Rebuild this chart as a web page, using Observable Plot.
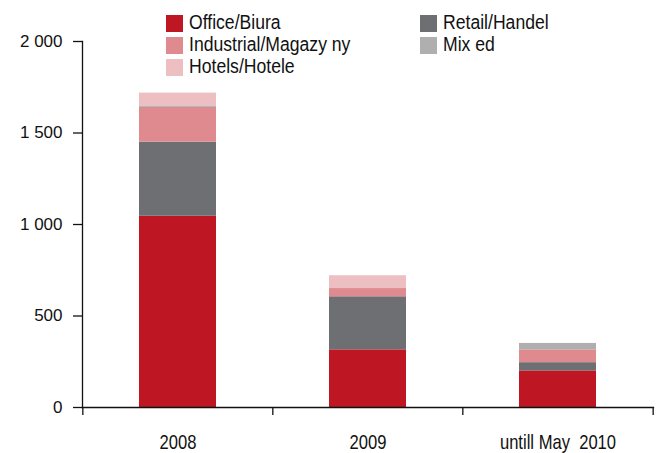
<!DOCTYPE html>
<html>
<head>
<meta charset="utf-8">
<script src="https://cdn.jsdelivr.net/npm/d3@7"></script>
<script src="https://cdn.jsdelivr.net/npm/@observablehq/plot@0.6"></script>
<style>
  html, body { margin: 0; padding: 0; background: #fff; }
  #wrap { position: relative; width: 661px; height: 453px; overflow: hidden; }
  #legend { position: absolute; left: 0; top: 0; font-family: "Liberation Sans", Arial, sans-serif; font-size: 20px; color: #111; }
  .item { position: absolute; height: 17px; white-space: pre; }
  .sw { position: absolute; left: 0; top: 0; width: 17px; height: 17px; }
  .lb { position: absolute; left: 23px; top: -4px; line-height: 22px; transform: scaleX(0.88); transform-origin: 0 50%; }
  svg text { white-space: pre; }
</style>
</head>
<body>
<div id="wrap"><div id="legend"></div></div>
<script>
const categories = ["2008", "2009", "untill May  2010"];
const series = ["Office/Biura", "Retail/Handel", "Industrial/Magazy ny", "Mix ed", "Hotels/Hotele"];
const colors = ["#BE1622", "#6D6F73", "#DE8A8F", "#AFAFB0", "#EDBFC2"];
const office = [1045, 315, 200];
const retail = [405, 290, 45];
const industrial = [190, 45, 70];
const mixed = [8, 0, 35];
const hotels = [70, 70, 0];
const yTicks = [0, 500, 1000, 1500, 2000];

const seriesValues = [office, retail, industrial, mixed, hotels];
const data = categories.flatMap((c, i) =>
  series.map((s, j) => ({category: c, series: s, value: seriesValues[j][i]})));

const W = 661, H = 453, mL = 82, mR = 8, mT = 41, mB = 46;
const step = (W - mL - mR) / categories.length;
const fmt = d => d3.format(",")(d).replace(/,/g, " ");

const chart = Plot.plot({
  width: W, height: H,
  marginLeft: mL, marginRight: mR, marginTop: mT, marginBottom: mB,
  style: {fontFamily: "'Liberation Sans', Arial, sans-serif", background: "#fff", color: "#111"},
  x: {domain: categories, paddingInner: 0.595, paddingOuter: 0.2975, axis: null},
  y: {domain: [0, 2000], axis: null},
  color: {domain: series, range: colors},
  marks: [
    Plot.barY(data, {x: "category", y: "value", fill: "series"}),
    Plot.axisY({ticks: yTicks, tickSize: 9, tickPadding: 11, tickFormat: fmt, fontSize: 17, label: null, stroke: "#111", strokeWidth: 1.3}),
    Plot.axisX({tickSize: 0, tickPadding: 27, fontSize: 20, label: null}),
    Plot.axisX({ticks: categories, tickSize: 8, tickFormat: () => "", label: null, dx: -step / 2, stroke: "#111", strokeWidth: 1.3}),
    Plot.axisX({ticks: [categories[categories.length - 1]], tickSize: 8, tickFormat: () => "", label: null, dx: step / 2, stroke: "#111", strokeWidth: 1.3}),
    Plot.frame({anchor: "left", stroke: "#111", strokeWidth: 1.3}),
    Plot.frame({anchor: "bottom", stroke: "#111", strokeWidth: 1.3})
  ]
});
document.getElementById("wrap").prepend(chart);

// condensed look of the category labels
chart.querySelectorAll('g[aria-label="x-axis tick label"] text').forEach(t => {
  if (t.textContent) t.setAttribute("transform", (t.getAttribute("transform") || "") + " scale(0.83,1)");
});

// Legend (two columns)
const legendPos = [[166, 15], [420, 15], [166, 37], [420, 37], [166, 59]];
const legend = document.getElementById("legend");
series.forEach((s, j) => {
  const it = document.createElement("div");
  it.className = "item";
  it.style.left = legendPos[j][0] + "px";
  it.style.top = legendPos[j][1] + "px";
  const sw = document.createElement("div");
  sw.className = "sw";
  sw.style.background = colors[j];
  const lb = document.createElement("div");
  lb.className = "lb";
  lb.textContent = s;
  it.append(sw, lb);
  legend.append(it);
});
</script>
</body>
</html>
